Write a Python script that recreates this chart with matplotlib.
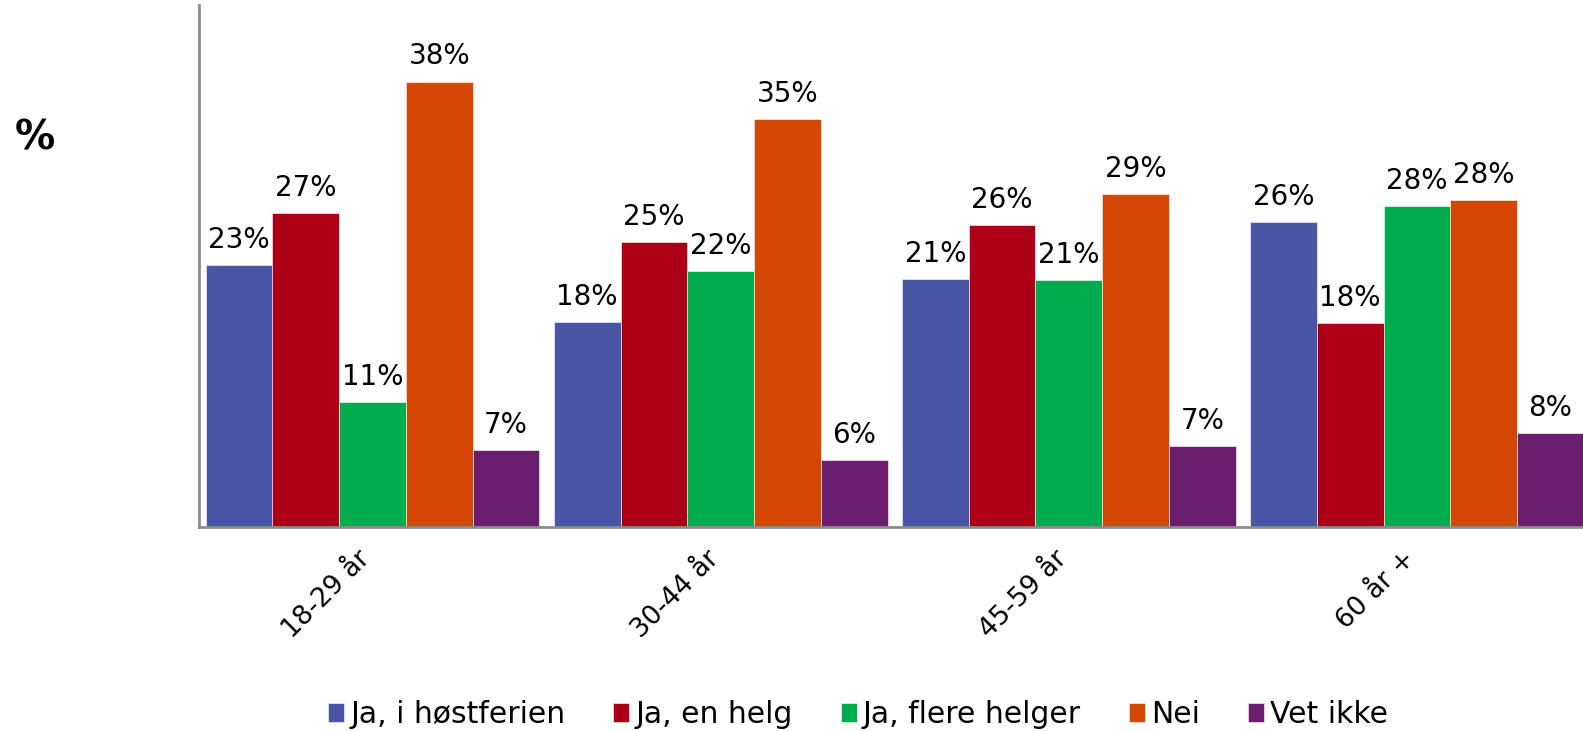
import numpy as np
import matplotlib
matplotlib.use('Agg')
import matplotlib.pyplot as plt
from matplotlib.transforms import ScaledTranslation

plt.rcParams['font.family'] = ['DejaVu Sans']

# data (labels are rounded in the chart)
groups = ['18-29 år', '30-44 år', '45-59 år', '60 år +']
series = ['Ja, i høstferien', 'Ja, en helg', 'Ja, flere helger', 'Nei', 'Vet ikke']
ja_hostferien = [22.6, 17.7, 21.4, 26.3]
ja_en_helg = [27.1, 24.6, 26.0, 17.6]
ja_flere_helger = [10.8, 22.1, 21.3, 27.7]
nei = [38.4, 35.2, 28.7, 28.2]
vet_ikke = [6.6, 5.8, 7.0, 8.1]

values = [ja_hostferien, ja_en_helg, ja_flere_helger, nei, vet_ikke]
colors = ['#4955A5', '#AD0017', '#00AD4E', '#D54704', '#6B1D6E']

font_size = 20

fig = plt.figure(figsize=(15.83, 7.31), dpi=100)
ax = fig.add_axes([0.1254, 0.2791, 0.8746, 0.7141])

x = np.arange(len(groups))
group_w = 0.959
bw = group_w / len(series)

for i, (name, vals) in enumerate(zip(series, values)):
    pos = x - group_w / 2 + bw * (i + 0.5)
    bars = ax.bar(pos, vals, width=bw, color=colors[i], label=name,
                  edgecolor='white', linewidth=0.4)
    ax.bar_label(bars, labels=['%d%%' % round(v) for v in vals],
                 padding=8, fontsize=font_size, color='black')

ax.set_xlim(-0.5, 3.477)
ax.set_ylim(0, 45)
ax.set_yticks([])
ax.set_xticks(x)
ax.set_xticklabels(groups, rotation=45, ha='right', va='center',
                   rotation_mode='anchor', fontsize=19)
ax.tick_params(axis='x', length=0, pad=20)
# nudge the slanted labels a bit left
shift = ScaledTranslation(-6 / 100, 0, fig.dpi_scale_trans)
for lab in ax.get_xticklabels():
    lab.set_transform(lab.get_transform() + shift)

for s in ['top', 'right']:
    ax.spines[s].set_visible(False)
for s in ['left', 'bottom']:
    ax.spines[s].set_color('#8c8c8c')
    ax.spines[s].set_linewidth(2)

fig.text(0.022, 0.81, '%', fontsize=29, fontweight='bold', ha='center', va='center')

leg = fig.legend(loc='center', bbox_to_anchor=(0.542, 0.022), ncol=5,
                 frameon=False, fontsize=21.5, handlelength=0.55,
                 handleheight=0.6, handletextpad=0.2, columnspacing=1.6,
                 borderaxespad=0)

fig.savefig('out.png', dpi=100)
